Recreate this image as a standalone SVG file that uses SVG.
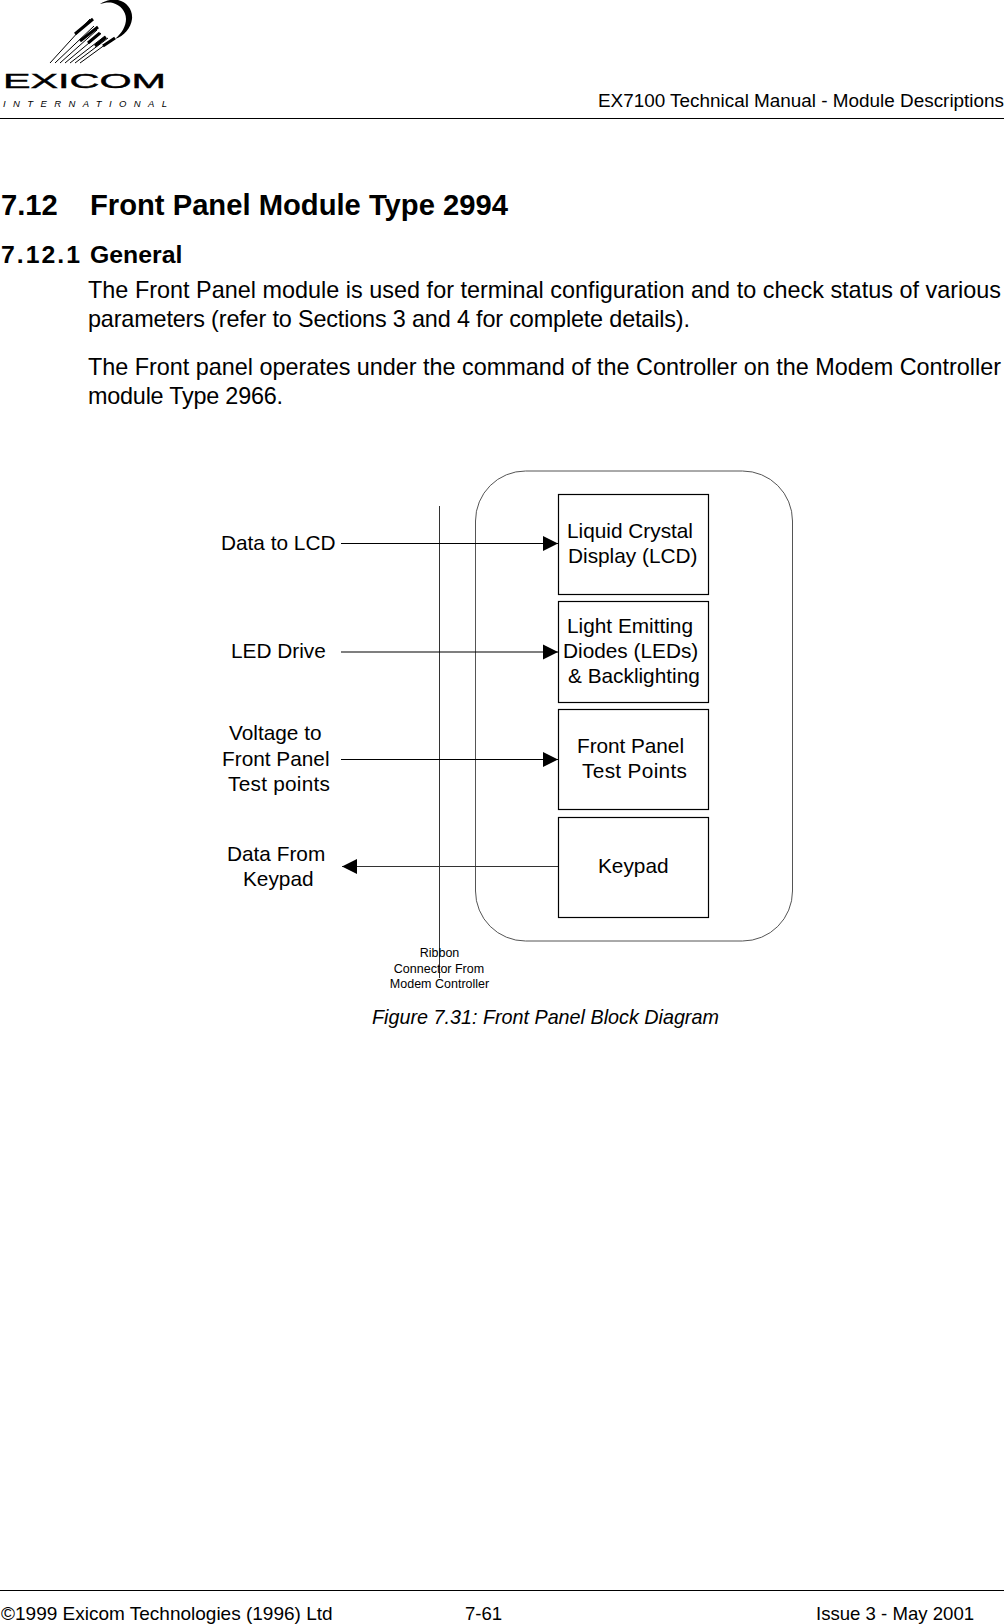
<svg xmlns="http://www.w3.org/2000/svg" width="1004" height="1624" viewBox="0 0 1004 1624">
<style>
text{font-family:"Liberation Sans",Arial,sans-serif;fill:#000}
.b{font-size:23.4px}
.d{font-size:20.800px}
.s{font-size:12.500px}
.box{fill:none;stroke:#000;stroke-width:1.2}
.c{stroke:#000;stroke-width:1.100;fill:none}
.t{stroke:#333;stroke-width:1;fill:none}
</style>
<defs><marker id="a" markerUnits="userSpaceOnUse" markerWidth="16" markerHeight="16" refX="15" refY="8" orient="auto"><path d="M0 0.500L15 8L0 15.500Z" fill="#000"/></marker></defs>
<rect width="1004" height="1624" fill="#fff"/>
<g id="logo">
<path d="M100 4C106 0 113 -1 118 0C127 2 133 10 132 19C131 28 124 36 115 39C122 33 126 26 126 19C126 11 120 5 113 3C108 2 104 3 100 4Z" fill="#000"/>
<g stroke="#000" stroke-width="1" fill="none">
<path d="M50 63L90 19M55 63L94 26M60 63L97 30M65 63L101 33M70 63L105 36M75 63L108 38M80 63L113 39"/>
</g>
<g stroke="#000" stroke-width="3" fill="none"><path d="M75 34L93 19M80 41L98 27M88 43L100 33M95 46L106 37M103 46L115 38"/></g>
<text x="3" y="88" font-size="20" style="stroke:#000;stroke-width:.4" textLength="163" lengthAdjust="spacingAndGlyphs">EXICOM</text>
<text x="3" y="107" font-size="9.500" font-style="italic" textLength="164" lengthAdjust="spacing">INTERNATIONAL</text>
</g>
<path d="M0 118.500H1004M0 1590.500H1004" stroke="#000" stroke-width="1"/>
<text x="1004" y="107" text-anchor="end" font-size="18.900">EX7100 Technical Manual - Module Descriptions</text>
<text x="1" y="215" font-size="29.200" font-weight="bold">7.12</text>
<text x="90" y="215" font-size="29.200" font-weight="bold">Front Panel Module Type 2994</text>
<text x="1" y="263" font-size="24.800" font-weight="bold" textLength="79" lengthAdjust="spacing">7.12.1</text>
<text x="90" y="263" font-size="24.800" font-weight="bold">General</text>
<text class="b" x="88" y="298" textLength="913" lengthAdjust="spacing">The Front Panel module is used for terminal configuration and to check status of various</text>
<text class="b" x="88" y="327" textLength="602" lengthAdjust="spacing">parameters (refer to Sections 3 and 4 for complete details).</text>
<text class="b" x="88" y="375" textLength="913" lengthAdjust="spacing">The Front panel operates under the command of the Controller on the Modem Controller</text>
<text class="b" x="88" y="404" textLength="195" lengthAdjust="spacing">module Type 2966.</text>
<g id="enclosure"><rect x="475.500" y="471" width="317" height="470" rx="50" ry="50" fill="none" stroke="#555" stroke-width="1"/></g>
<g id="connectors">
<path class="t" d="M439.500 506V978"/>
<path class="c" d="M341 543.500H558" marker-end="url(#a)"/>
<path class="c" d="M341 652H558" marker-end="url(#a)"/>
<path class="c" d="M341 759.500H558" marker-end="url(#a)"/>
<path class="t" d="M558 866.500H342" marker-end="url(#a)"/>
</g>
<g id="lcd"><rect class="box" x="558.500" y="494.500" width="150" height="100"/>
<text class="d" x="567" y="538">Liquid Crystal</text><text class="d" x="568" y="563">Display (LCD)</text></g>
<g id="leds"><rect class="box" x="558.500" y="601.500" width="150" height="101"/>
<text class="d" x="567" y="633">Light Emitting</text><text class="d" x="563" y="658">Diodes (LEDs)</text><text class="d" x="568" y="683">&amp; Backlighting</text></g>
<g id="testpoints"><rect class="box" x="558.500" y="709.500" width="150" height="100"/>
<text class="d" x="577" y="753" textLength="107" lengthAdjust="spacing">Front Panel</text><text class="d" x="582" y="778" textLength="105" lengthAdjust="spacing">Test Points</text></g>
<g id="keypad"><rect class="box" x="558.500" y="817.500" width="150" height="100"/>
<text class="d" x="598" y="873">Keypad</text></g>
<g id="labels">
<text class="d" x="221" y="550">Data to LCD</text>
<text class="d" x="231" y="658">LED Drive</text>
<text class="d" x="229" y="740">Voltage to</text>
<text class="d" x="222" y="766">Front Panel</text>
<text class="d" x="228" y="791" textLength="102" lengthAdjust="spacing">Test points</text>
<text class="d" x="227" y="861">Data From</text>
<text class="d" x="243" y="886">Keypad</text>
<text class="s" x="439.500" y="957" text-anchor="middle">Ribbon</text>
<text class="s" x="439" y="973" text-anchor="middle">Connector From</text>
<text class="s" x="439.500" y="988" text-anchor="middle">Modem Controller</text>
</g>
<text x="372" y="1024" font-size="19.750" font-style="italic">Figure 7.31: Front Panel Block Diagram</text>
<text x="1" y="1620" font-size="19">©1999 Exicom Technologies (1996) Ltd</text>
<text x="465" y="1620" font-size="18.600">7-61</text>
<text x="816" y="1620" font-size="18.600">Issue 3 - May 2001</text>
</svg>
